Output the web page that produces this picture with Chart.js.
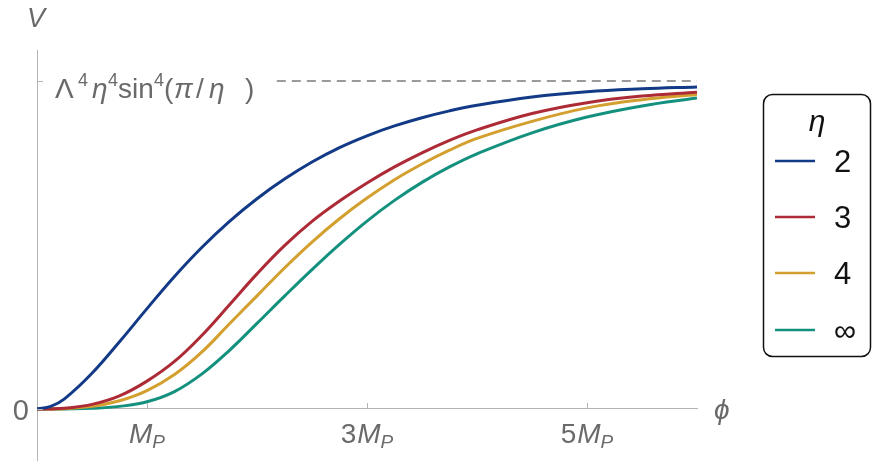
<!DOCTYPE html>
<html>
<head>
<meta charset="utf-8">
<script src="https://cdn.jsdelivr.net/npm/chart.js@4.4.1/dist/chart.umd.min.js"></script>
<style>
html,body{margin:0;padding:0;background:#fff;}
#c{display:block;}
</style>
</head>
<body>
<canvas id="c" width="875" height="465"></canvas>
<script>
// ---- data ----
const phi    = [0,0.125,0.25,0.5,0.75,1,1.25,1.5,1.75,2,2.25,2.5,2.75,3,3.25,3.5,3.75,4,4.5,5,5.5,6];
const eta2   = [0,0.008,0.031,0.109,0.205,0.306,0.404,0.493,0.572,0.641,0.701,0.753,0.797,0.833,0.863,0.888,0.909,0.926,0.951,0.967,0.976,0.982];
const eta3   = [0,0.0002,0.002,0.014,0.04,0.085,0.145,0.225,0.318,0.412,0.498,0.572,0.634,0.689,0.738,0.781,0.819,0.851,0.901,0.934,0.954,0.966];
const eta4   = [0,0.0001,0.001,0.008,0.025,0.056,0.105,0.174,0.26,0.345,0.43,0.509,0.58,0.643,0.699,0.747,0.789,0.825,0.877,0.918,0.943,0.959];
const etaInf = [0,0,0.0003,0.002,0.008,0.022,0.053,0.107,0.179,0.261,0.344,0.425,0.502,0.573,0.636,0.691,0.738,0.778,0.842,0.89,0.924,0.948];
const seriesLabels = ['2','3','4','\u221E'];
const seriesColors = ['#123a86','#ad2b36','#d39f2e','#14917e'];
const asymptoteLevel = 1;
const asymptoteStart = 2.18;
const xTickValues = [1,3,5];
const xTickCoefs  = ['','3','5'];
const yTickValues = [0,1];

const FONT = "'Liberation Sans', Arial, 'DejaVu Sans', sans-serif";
const GRAY = '#6a6a6a';

const toXY = ys => phi.map((x,i)=>({x:x, y:ys[i]}));
const series = [eta2, eta3, eta4, etaInf];

const datasets = series.map((s,i)=>({
  label: seriesLabels[i],
  data: toXY(s),
  borderColor: seriesColors[i],
  borderWidth: 3,
  pointRadius: 0,
  tension: 0.4,
  fill: false
}));
datasets.unshift({
  label: 'asymptote',
  data: [{x:asymptoteStart, y:asymptoteLevel},{x:6, y:asymptoteLevel}],
  borderColor: '#9a9a9a',
  borderWidth: 2,
  borderDash: [9,6],
  pointRadius: 0,
  fill: false
});

function font(size, italic){ return (italic?'italic ':'') + size + 'px ' + FONT; }

function drawParts(ctx, parts, x, y, align){
  let w = 0;
  parts.forEach(p=>{ ctx.font = font(p.size, p.it); p.w = ctx.measureText(p.t).width; w += p.w + (p.gap||0); });
  let cx = align==='center' ? x - w/2 : (align==='right' ? x - w : x);
  ctx.textAlign = 'left';
  ctx.textBaseline = 'alphabetic';
  parts.forEach(p=>{ ctx.font = font(p.size, p.it); ctx.fillText(p.t, cx, y + (p.dy||0)); cx += p.w + (p.gap||0); });
}

const decor = {
  id: 'decor',
  afterDraw(chart){
    const ctx = chart.ctx;
    const xs = chart.scales.x, ys = chart.scales.y;
    const x0 = xs.getPixelForValue(0);
    const yZero = ys.getPixelForValue(0);
    ctx.save();
    // tick marks (inside)
    ctx.strokeStyle = '#b3b3b3'; ctx.lineWidth = 1;
    xTickValues.forEach(v=>{
      const px = Math.round(xs.getPixelForValue(v)) + 0.5;
      ctx.beginPath(); ctx.moveTo(px, yZero); ctx.lineTo(px, yZero-6); ctx.stroke();
    });
    yTickValues.forEach(v=>{
      const py = Math.round(ys.getPixelForValue(v)) + 0.5;
      ctx.beginPath(); ctx.moveTo(x0, py); ctx.lineTo(x0+6, py); ctx.stroke();
    });
    ctx.fillStyle = GRAY;
    // x tick labels
    xTickValues.forEach((v,i)=>{
      const parts = [];
      if (xTickCoefs[i]) parts.push({t:xTickCoefs[i], size:28, it:false, gap:1});
      parts.push({t:'M', size:28, it:true});
      parts.push({t:'P', size:19, it:true, dy:5});
      drawParts(ctx, parts, xs.getPixelForValue(v), yZero + 34, 'center');
    });
    // y tick label 0
    drawParts(ctx, [{t:'0', size:29, it:false}], x0 - 8, yZero + 11, 'right');
    // y tick label at asymptote
    const yA = ys.getPixelForValue(asymptoteLevel);
    const base = yA + 17;
    const pieces = [
      {t:'\u039B', dx:18, size:28, it:false},
      {t:'4', dx:41, size:18, it:false, dy:-12},
      {t:'\u03B7', dx:55, size:28, it:true},
      {t:'4', dx:71, size:18, it:false, dy:-12},
      {t:'sin', dx:81, size:28, it:false},
      {t:'4', dx:117, size:18, it:false, dy:-12},
      {t:'(', dx:127, size:28, it:false},
      {t:'\u03C0', dx:137, size:28, it:true},
      {t:'/', dx:159, size:28, it:false},
      {t:'\u03B7', dx:172, size:28, it:true},
      {t:')', dx:208, size:28, it:false}
    ];
    ctx.textAlign = 'left'; ctx.textBaseline = 'alphabetic';
    pieces.forEach(p=>{ ctx.font = font(p.size, p.it); ctx.fillText(p.t, x0 + p.dx, base + (p.dy||0)); });
    // axis labels
    ctx.font = font(27, true); ctx.textAlign = 'center';
    ctx.fillText('V', x0 - 1, 27);
    ctx.font = font(28, true); ctx.textAlign = 'left';
    ctx.fillText('\u03D5', xs.getPixelForValue(6) + 17, yZero + 10);

    // legend
    const L = {x:763.5, y:94.5, w:107, h:262, r:9};
    ctx.strokeStyle = '#111'; ctx.lineWidth = 1.5;
    ctx.beginPath();
    ctx.moveTo(L.x+L.r, L.y);
    ctx.arcTo(L.x+L.w, L.y, L.x+L.w, L.y+L.h, L.r);
    ctx.arcTo(L.x+L.w, L.y+L.h, L.x, L.y+L.h, L.r);
    ctx.arcTo(L.x, L.y+L.h, L.x, L.y, L.r);
    ctx.arcTo(L.x, L.y, L.x+L.w, L.y, L.r);
    ctx.closePath(); ctx.stroke();
    ctx.fillStyle = '#111';
    ctx.font = font(30, true); ctx.textAlign = 'center';
    ctx.fillText('\u03B7', 817, 131);
    const rows = [161, 217, 273, 330];
    chart.data.datasets.slice(1).forEach((ds,i)=>{
      ctx.strokeStyle = ds.borderColor; ctx.lineWidth = 2.5;
      ctx.beginPath(); ctx.moveTo(775, rows[i]); ctx.lineTo(815, rows[i]); ctx.stroke();
      ctx.fillStyle = '#111'; ctx.font = font(31, false); ctx.textAlign = 'left';
      ctx.fillText(ds.label, 834, rows[i] + 11);
    });
    ctx.restore();
  }
};

new Chart(document.getElementById('c'), {
  type: 'line',
  data: { datasets },
  options: {
    responsive: false,
    animation: false,
    devicePixelRatio: 1,
    layout: { padding: { left: 37, right: 178, top: 50, bottom: 5 } },
    plugins: { legend: { display: false }, tooltip: { enabled: false } },
    scales: {
      x: {
        type: 'linear', min: 0, max: 6,
        position: { y: 0 },
        grid: { display: false },
        border: { display: true, color: '#b3b3b3', width: 1 },
        ticks: { display: false },
        afterFit: s => { s.height = 0; }
      },
      y: {
        type: 'linear', min: -0.1555, max: 1.0945,
        position: 'left',
        grid: { display: false },
        border: { display: true, color: '#b3b3b3', width: 1 },
        ticks: { display: false },
        afterFit: s => { s.width = 0; }
      }
    }
  },
  plugins: [decor]
});
</script>
</body>
</html>
